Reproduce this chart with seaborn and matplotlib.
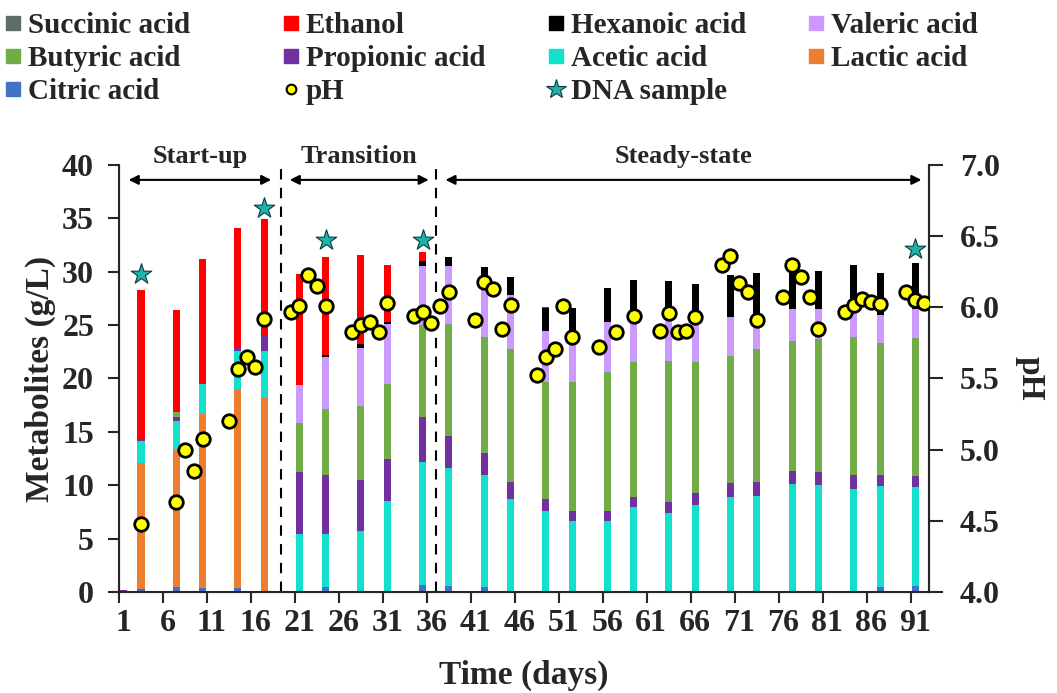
import numpy as np
import pandas as pd
import seaborn as sns
import matplotlib.pyplot as plt
from matplotlib.lines import Line2D

# sampling days with metabolite measurements
days = [1, 3, 7, 10, 14, 17, 21, 24, 28, 31, 35, 38, 42, 45, 49, 52, 56, 59,
        63, 66, 70, 73, 77, 80, 84, 87, 91]

# concentrations in g/L, one value per sampling day
citric = [0, 0.3, 0.45, 0.35, 0.35, 0, 0, 0.5, 0, 0, 0.65, 0.56, 0.44, 0, 0, 0, 0, 0,
          0, 0, 0, 0, 0, 0, 0, 0.5, 0.56]
lactic = [0, 11.75, 12.85, 16.35, 18.65, 18.2, 0, 0, 0, 0, 0, 0, 0, 0, 0, 0, 0, 0,
          0, 0, 0, 0, 0, 0, 0, 0, 0]
succinic = [0] * 27
acetic = [0, 2.05, 2.75, 2.8, 3.57, 4.37, 5.43, 4.93, 5.74, 8.55, 11.52, 11.02, 10.51,
          8.71, 7.58, 6.65, 6.65, 7.93, 7.43, 8.18, 8.93, 9.02, 10.1, 9.99, 9.64, 9.45, 9.24]
propionic = [0.2, 0.1, 0.35, 0, 0.4, 1.49, 5.84, 5.52, 4.72, 3.94, 4.18, 3.02, 2.1,
             1.56, 1.1, 0.97, 0.93, 0.93, 0.97, 1.12, 1.25, 1.28, 1.26, 1.25, 1.29, 1.0, 1.06]
butyric = [0, 0, 0.5, 0, 0, 0, 4.53, 6.15, 6.98, 6.99, 8.65, 10.49, 10.8, 12.48, 11.02,
           12.08, 13.05, 12.71, 13.26, 12.27, 11.95, 12.42, 12.14, 12.42, 12.92, 12.33, 12.89]
valeric = [0, 0, 0, 0, 0, 0, 3.55, 4.87, 5.46, 5.61, 5.52, 5.43, 5.15, 5.05, 4.77, 4.5,
           4.62, 3.63, 3.94, 3.58, 3.59, 2.28, 2.97, 2.81, 2.55, 2.66, 2.72]
hexanoic = [0, 0, 0, 0, 0, 0, 0, 0.22, 0.29, 0.21, 0.48, 0.88, 1.46, 1.7, 2.13, 2.4,
            3.18, 4.0, 3.55, 3.69, 3.96, 4.84, 4.13, 3.63, 4.2, 3.96, 4.3]
ethanol = [0, 14.1, 9.5, 11.7, 11.08, 10.84, 10.4, 9.21, 8.41, 5.3, 0.87, 0, 0, 0, 0.1,
           0, 0, 0, 0, 0, 0, 0, 0, 0, 0, 0, 0]

# pH measurements
ph_days = [3, 7, 8, 9, 10, 13, 14, 15, 16, 17, 20, 21, 22, 23, 24, 27, 28, 29, 30, 31,
           34, 35, 36, 37, 38, 41, 42, 43, 44, 45, 48, 49, 50, 51, 52, 55, 57, 59, 62,
           63, 64, 65, 66, 69, 70, 71, 72, 73, 76, 77, 78, 79, 80, 83, 84, 85, 86, 87,
           90, 91, 92]
ph = [4.48, 4.635, 5.0, 4.85, 5.075, 5.2, 5.57, 5.65, 5.58, 5.92, 5.965, 6.01, 6.23,
      6.15, 6.01, 5.83, 5.875, 5.9, 5.83, 6.03, 5.94, 5.965, 5.89, 6.01, 6.11, 5.91,
      6.18, 6.13, 5.846, 6.017, 5.525, 5.65, 5.71, 6.01, 5.79, 5.72, 5.825, 5.94, 5.834,
      5.96, 5.825, 5.834, 5.93, 6.3, 6.36, 6.17, 6.11, 5.91, 6.075, 6.3, 6.21, 6.075,
      5.85, 5.966, 6.017, 6.057, 6.04, 6.024, 6.11, 6.05, 6.03]

# DNA sampling marks (drawn in g/L units just above the bars)
dna_days = [3, 17, 24, 35, 91]
dna_y = [29.8, 36.0, 33.0, 32.96, 32.1]

# phases
phase_names = ["Start-up", "Transition", "Steady-state"]
phase_start = [1.6, 19.9, 37.6]
phase_end = [17.8, 35.7, 91.7]
phase_split = [18.95, 36.57]

stack = [("Citric acid", citric, "#4472C4"),
         ("Lactic acid", lactic, "#ED7D31"),
         ("Succinic acid", succinic, "#5B6E6A"),
         ("Acetic acid", acetic, "#12E0CB"),
         ("Propionic acid", propionic, "#7030A0"),
         ("Butyric acid", butyric, "#70AD47"),
         ("Valeric acid", valeric, "#CC99FF"),
         ("Hexanoic acid", hexanoic, "#000000"),
         ("Ethanol", ethanol, "#FF0000")]
colors = {name: c for name, _, c in stack}

sns.set_style("ticks")
plt.rcParams['font.family'] = ['Liberation Serif', 'DejaVu Serif']
plt.rcParams['font.weight'] = 'bold'

fig = plt.figure(figsize=(10.57, 6.93), dpi=100)
ax = fig.add_axes([0.1126, 0.1457, 0.7666, 0.6163])

#stacked bars
bottom = np.zeros(len(days))
for name, vals, col in stack:
    vals = np.array(vals, dtype=float)
    ax.bar(days, vals, bottom=bottom, width=0.8, color=col, linewidth=0, zorder=2)
    bottom += vals

#phase separators, arrows and labels
for xs in phase_split:
    ax.axvline(xs, color="black", linestyle=(0, (5, 4)), linewidth=1.5, ymax=1.01,
               clip_on=False, zorder=1)
for name, a, b in zip(phase_names, phase_start, phase_end):
    ax.annotate("", xy=(a, 38.6), xytext=(b, 38.6),
                arrowprops=dict(arrowstyle="<|-|>", color="black", lw=1.5,
                                mutation_scale=14, shrinkA=0, shrinkB=0))
    ax.text((a + b) / 2, 40.8, name, ha="center", va="center", fontsize=19,
            fontweight="bold", clip_on=False)

#DNA sample stars
sns.scatterplot(x=dna_days, y=dna_y, ax=ax, marker="*", s=240, color="#1DB3A8",
                edgecolor="#0B3A3A", linewidth=0.8, zorder=4, legend=False)

ax.set_xlim(0.5, 92.6)
ax.set_ylim(0, 40)
ax.set_yticks(np.arange(0, 41, 5))
ax.set_xticks(np.arange(1, 92, 5))
ax.set_xticks(np.arange(0.5, 91, 5), minor=True)
ax.tick_params(axis="x", which="major", length=0, labelsize=23, pad=12)
ax.tick_params(axis="x", which="minor", length=8, width=1.5, direction="out")
ax.tick_params(axis="y", length=8, width=1.5, direction="out", labelsize=23, pad=10)
ax.set_ylabel("Metabolites (g/L)", fontsize=24, fontweight="bold", labelpad=4)
ax.set_xlabel("Time (days)", fontsize=24, fontweight="bold", labelpad=16)
for s in ["left", "bottom", "right"]:
    ax.spines[s].set_linewidth(1.5)
ax.spines["top"].set_visible(False)

#pH on secondary axis
ax2 = ax.twinx()
sns.scatterplot(x=ph_days, y=ph, ax=ax2, marker="o", s=95, color="#FFFF00",
                edgecolor="black", linewidth=2, zorder=5, legend=False)
ax2.set_ylim(4, 7)
ax2.set_yticks(np.arange(4, 7.01, 0.5))
ax2.set_yticklabels([f"{v:.1f}" for v in np.arange(4, 7.01, 0.5)])
ax2.tick_params(axis="y", length=10, width=1.5, direction="out", labelsize=23, pad=12)
ax2.set_ylabel("pH", fontsize=24, fontweight="bold", rotation=270, labelpad=33)
ax2.spines["top"].set_visible(False)
ax2.spines["right"].set_linewidth(1.5)
for tl in ax.get_xticklabels() + ax.get_yticklabels() + ax2.get_yticklabels():
    tl.set_fontweight("bold")

#legend, one column at a time so each column sits where it should
def sq(name):
    return Line2D([], [], marker="s", ls="", color=colors[name], markersize=10)

ph_handle = Line2D([], [], marker="o", ls="", markerfacecolor="#FFFF00",
                   markeredgecolor="black", markeredgewidth=1.5, markersize=7)
dna_handle = Line2D([], [], marker="*", ls="", markerfacecolor="#1DB3A8",
                    markeredgecolor="#0B3A3A", markeredgewidth=0.8, markersize=15)
legend_cols = [
    ([sq("Succinic acid"), sq("Butyric acid"), sq("Citric acid")],
     ["Succinic acid", "Butyric acid", "Citric acid"], 3),
    ([sq("Ethanol"), sq("Propionic acid"), ph_handle],
     ["Ethanol", "Propionic acid", "pH"], 281),
    ([sq("Hexanoic acid"), sq("Acetic acid"), dna_handle],
     ["Hexanoic acid", "Acetic acid", "DNA sample"], 546),
    ([sq("Valeric acid"), sq("Lactic acid")],
     ["Valeric acid", "Lactic acid"], 806),
]
for hs, ls, xpix in legend_cols:
    fig.legend(hs, ls, loc="upper left", bbox_to_anchor=(xpix / 1057, 0.983),
               frameon=False, handlelength=0.7, handletextpad=0.15,
               labelspacing=0.21, borderaxespad=0, borderpad=0,
               prop={"weight": "bold", "size": 21})

fig.savefig("out.png", dpi=100)
